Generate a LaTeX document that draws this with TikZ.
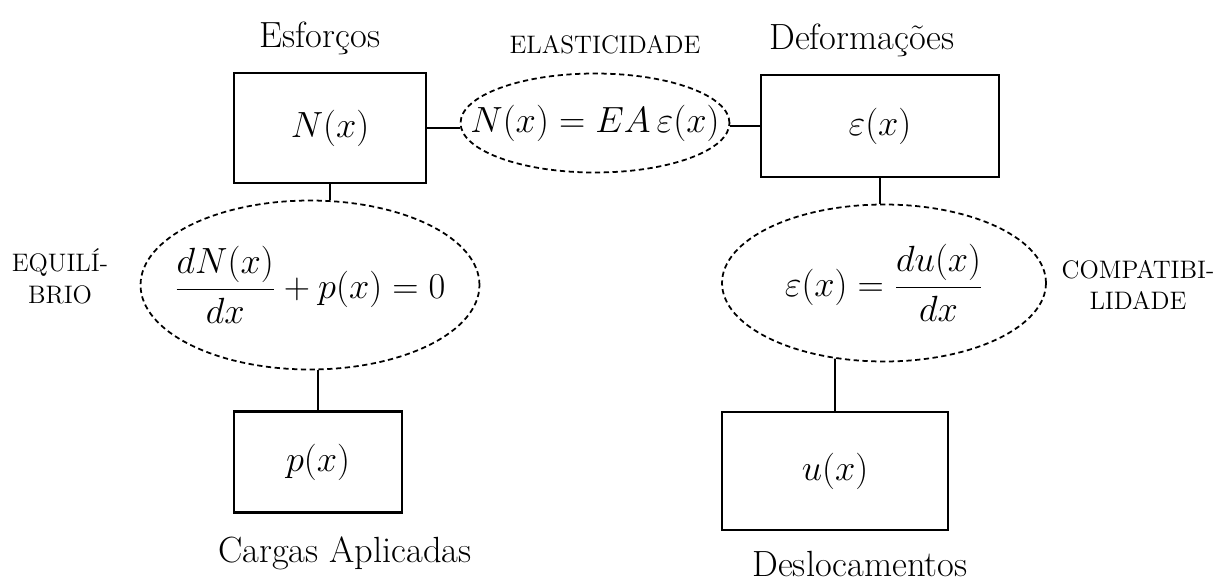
\documentclass[tikz,border=0pt]{standalone}
\usepackage{amsmath}
\usepackage{fontspec}
\usetikzlibrary{shapes.geometric}
\begin{document}
\begin{tikzpicture}[
  x=0.02cm, y=-0.02cm,
  box/.style={rectangle, draw, line width=1.2pt, font=\huge},
  eqn/.style={ellipse, draw, densely dashed, line width=1pt, inner xsep=-1.2cm, font=\huge},
  lbl/.style={font=\huge},
  caps/.style={font=\Large, align=center},
  link/.style={line width=1pt}
]
\useasboundingbox (0,0) rectangle (1218,582);

% top row
\node[lbl] (esf) at (320,38) {Esforços};
\node[box, minimum width=3.84cm, minimum height=2.2cm] (nbox) at (330,128) {$N(x)$};
\node[caps] (elast) at (605,45) {ELASTICIDADE};
\node[eqn, minimum width=5.38cm, minimum height=1.98cm] (elas) at (595,123) {$N(x)=EA\,\varepsilon(x)$};
\node[lbl] (def) at (862,40) {Deformações};
\node[box, minimum width=4.76cm, minimum height=2.04cm] (ebox) at (880,126) {$\varepsilon(x)$};

% left column
\node[eqn, minimum width=6.78cm, minimum height=3.38cm] (eqL) at (310,285) {$\dfrac{dN(x)}{dx}+p(x)=0$};
\node[caps] (equil) at (60,276) {EQUILÍ-\\BRIO};
\node[box, minimum width=3.36cm, minimum height=2.02cm] (pbox) at (318,462) {$p(x)$};
\node[lbl] (cargas) at (345,553) {Cargas Aplicadas};

% right column
\node[eqn, minimum width=6.48cm, minimum height=3.14cm] (eqR) at (884,283) {$\varepsilon(x)=\dfrac{du(x)}{dx}$};
\node[caps] (compat) at (1138,285) {COMPATIBI-\\LIDADE};
\node[box, minimum width=4.52cm, minimum height=2.36cm] (ubox) at (835,471) {$u(x)$};
\node[lbl] (desl) at (860,564) {Deslocamentos};

\draw[link] (nbox.east) -- (nbox.east -| elas.west);
\draw[link] (ebox.west) -- (ebox.west -| elas.east);
\draw[link] (nbox.south) -- (nbox.south |- eqL.north);
\draw[link] (pbox.north) -- (pbox.north |- eqL.south);
\draw[link] (ebox.south) -- (ebox.south |- eqR.north);
\draw[link] (ubox.north) -- (eqR.237);
\end{tikzpicture}
\end{document}
